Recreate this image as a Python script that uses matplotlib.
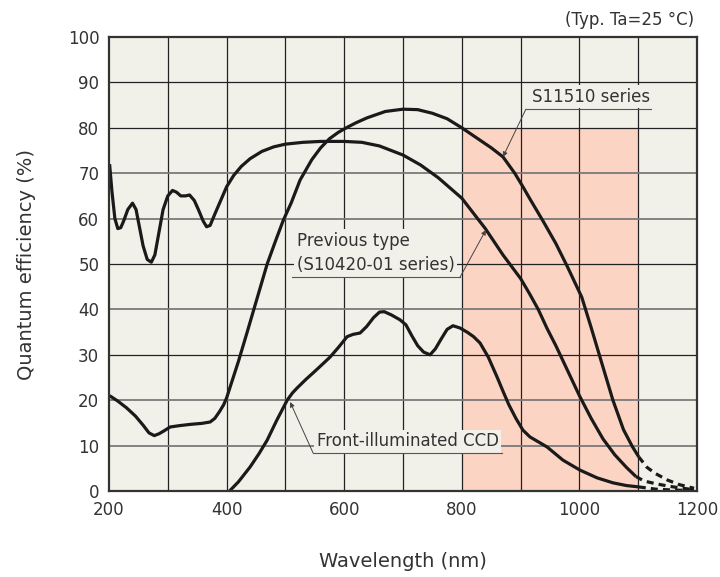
from matplotlib import pyplot as plt

# 以往型号 (S10420-01 series)
prev_x = [201, 205, 210, 215, 220, 225, 232, 240, 246, 252, 258, 265, 272, 278, 285, 292,
          300, 308, 315, 322, 330, 337, 345, 352, 360, 366, 372, 380, 390, 400, 412, 425,
          440, 460, 480, 500, 530, 560, 600, 630, 660, 700, 730, 760, 800, 840, 870, 900,
          915, 930, 945, 960, 980, 1000, 1020, 1040, 1060, 1080, 1096]
prev_y = [72, 66, 60, 57.8, 58, 59.5, 62, 63.4, 62, 58, 54, 51, 50.4, 52, 57, 62,
          65, 66.2, 65.8, 65, 65, 65.2, 64, 62, 59.5, 58.2, 58.5, 61, 64, 67, 69.5, 71.5,
          73.2, 74.8, 75.8, 76.4, 76.8, 77, 77, 76.8, 76, 74, 71.8, 69, 64.5, 57.8, 52, 46.8,
          43.5, 40, 35.8, 32, 26.5, 21, 16, 11.5, 8, 5.2, 3.2]
prev_dash_x = [1096, 1110, 1130, 1150, 1175, 1195]
prev_dash_y = [3.2, 2.2, 1.6, 1.1, 0.6, 0.3]

# S11510 series
s115_x = [201, 215, 230, 245, 258, 268, 277, 285, 293, 304, 320, 340, 358, 372, 380, 388,
          395, 400, 410, 420, 435, 452, 469, 483, 496, 510, 525, 545, 560, 575, 590, 605,
          620, 639, 670, 700, 725, 750, 775, 800, 825, 850, 870, 890, 904, 916, 938, 960,
          980, 1004, 1020, 1035, 1057, 1075, 1090, 1101]
s115_y = [21, 19.8, 18.3, 16.5, 14.5, 12.8, 12.2, 12.6, 13.2, 14.1, 14.4, 14.7, 14.9, 15.2, 16, 17.5,
          19, 20.5, 24.5, 28.5, 35, 42.5, 50, 55, 59.5, 63.5, 68.5, 73, 75.6, 77.6, 79.0, 80.1,
          81.1, 82.2, 83.6, 84.1, 84, 83.2, 82, 80, 77.8, 75.6, 73.6, 70, 67, 64.3, 59.5, 54.5,
          49.3, 42.7, 36, 29.5, 20, 13.5, 9.8, 7.5]
s115_dash_x = [1101, 1115, 1130, 1150, 1170, 1195]
s115_dash_y = [7.5, 5.2, 3.8, 2.4, 1.4, 0.6]

# Front-illuminated CCD
ccd_x = [405, 420, 440, 455, 469, 485, 503, 512, 520, 535, 547, 562, 576, 590, 605, 615,
         627, 638, 650, 660, 668, 680, 695, 705, 715, 725, 735, 746, 755, 765, 775, 785,
         797, 809, 820, 831, 845, 860, 870, 880, 892, 904, 916, 945, 972, 1001, 1030, 1057,
         1080, 1101]
ccd_y = [0, 2, 5.3, 8.2, 11.2, 15.5, 20, 21.6, 22.7, 24.6, 26, 27.8, 29.5, 31.6, 34, 34.5,
         34.8, 36.2, 38.2, 39.4, 39.5, 38.8, 37.7, 36.6, 34.2, 32, 30.6, 30, 31.3, 33.5, 35.6, 36.4,
         35.9, 35, 34, 32.6, 29.5, 25.1, 22, 19, 16, 13.4, 11.9, 9.7, 6.8, 4.6, 2.9, 1.8,
         1.2, 0.9]
ccd_dash_x = [1101, 1130, 1160, 1195]
ccd_dash_y = [0.9, 0.4, 0.2, 0.1]

x_ticks = [200, 400, 600, 800, 1000, 1200]
y_ticks = list(range(0, 101, 10))
x_grid = list(range(300, 1200, 100))
y_grid_gray = [10, 20, 40, 60, 70]
y_grid_dark = [30, 50, 80, 90]

bg = '#f2f1e9'
txt = '#333333'
plt.rcParams['font.family'] = ['DejaVu Sans']

fig = plt.figure(figsize=(7.2, 5.77), dpi=100)
ax = fig.add_axes([109 / 720, 1 - 491 / 577, 588 / 720, 454 / 577])
ax.set_facecolor(bg)
ax.set_xlim(200, 1200)
ax.set_ylim(0, 100)

# 红色区域
ax.fill_between([800, 1100], 0, 80, color='#fcd4c3', lw=0, zorder=0.5)

# 网格
ax.vlines(x_grid, 0, 100, colors='#222222', lw=0.9, zorder=1)
ax.hlines(y_grid_gray, 200, 1200, colors='#7a7a7a', lw=1.3, zorder=1)
ax.hlines(y_grid_dark, 200, 1200, colors='#222222', lw=0.9, zorder=1)

lw = 2.3
ax.plot(prev_x, prev_y, color='#1a1a1a', lw=lw, zorder=4, solid_capstyle='butt')
ax.plot(s115_x, s115_y, color='#1a1a1a', lw=lw, zorder=4, solid_capstyle='butt')
ax.plot(ccd_x, ccd_y, color='#1a1a1a', lw=lw, zorder=4, solid_capstyle='butt')
for dx, dy in [(prev_dash_x, prev_dash_y), (s115_dash_x, s115_dash_y), (ccd_dash_x, ccd_dash_y)]:
    ax.plot(dx, dy, color='#1a1a1a', lw=lw, ls=(0, (2.2, 1.6)), zorder=4)

# 标注
box = dict(boxstyle='square,pad=0.15', fc=bg, ec='none')
ax.text(919, 86.8, 'S11510 series', fontsize=12, color=txt, ha='left', va='center', bbox=box, zorder=2)
ax.text(519, 52.4, 'Previous type\n(S10420-01 series)', fontsize=12, color=txt, ha='left',
        va='center', linespacing=1.45, bbox=box, zorder=2)
ax.text(553, 11.0, 'Front-illuminated CCD', fontsize=12, color=txt, ha='left', va='center', bbox=box, zorder=2)

lead = dict(arrowstyle='-|>', color='#444444', lw=0.7, mutation_scale=7, shrinkA=0, shrinkB=0)
ax.plot([909, 1122], [84.1, 84.1], color='#555555', lw=0.8, zorder=3)
ax.annotate('', xy=(870, 73.6), xytext=(909, 84.1), arrowprops=lead, zorder=5)
ax.plot([511, 797], [47.1, 47.1], color='#555555', lw=0.8, zorder=3)
ax.annotate('', xy=(841, 57.5), xytext=(797, 47.1), arrowprops=lead, zorder=5)
ax.plot([547, 868], [8.4, 8.4], color='#555555', lw=0.8, zorder=3)
ax.annotate('', xy=(508, 19.6), xytext=(547, 8.4), arrowprops=lead, zorder=5)

ax.set_xticks(x_ticks)
ax.set_yticks(y_ticks)
ax.tick_params(length=0, labelsize=12, labelcolor=txt, pad=7)
for s in ax.spines.values():
    s.set_linewidth(1.6)
    s.set_color('#333333')
    s.set_zorder(6)

ax.set_xlabel('Wavelength (nm)', fontsize=14, color=txt, labelpad=24)
ax.set_ylabel('Quantum efficiency (%)', fontsize=14, color=txt, labelpad=23)
fig.text(694 / 720, 1 - 20 / 577, '(Typ. Ta=25 °C)', fontsize=12, color=txt, ha='right', va='center')

fig.savefig('out.png', dpi=100)
